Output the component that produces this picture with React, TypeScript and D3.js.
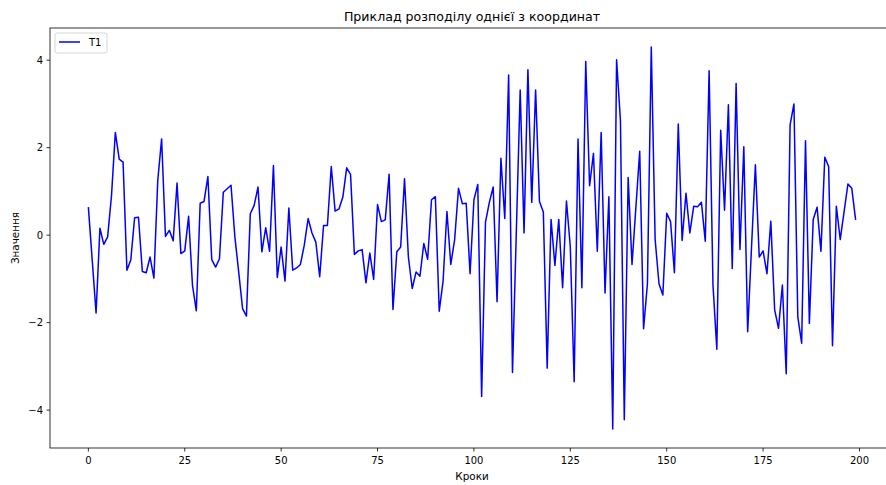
import React from "react";
import * as d3 from "d3";

const seriesName = "T1";
const titleText = "Приклад розподілу однієї з координат";
const xLabelText = "Кроки";
const yLabelText = "Значення";
const xTicks = [0, 25, 50, 75, 100, 125, 150, 175, 200];
const yTicks = [-4, -2, 0, 2, 4];

const values: number[] = [
  0.64, -0.57, -1.78, 0.16, -0.21, -0.04, 0.9, 2.35, 1.74, 1.67,
  -0.8, -0.57, 0.4, 0.41, -0.83, -0.86, -0.5, -0.98, 1.25, 2.2,
  -0.03, 0.11, -0.13, 1.19, -0.42, -0.36, 0.43, -1.14, -1.73, 0.73,
  0.77, 1.34, -0.56, -0.73, -0.54, 0.98, 1.06, 1.14, -0.04, -0.85,
  -1.68, -1.85, 0.49, 0.68, 1.1, -0.38, 0.17, -0.37, 1.59, -0.97,
  -0.27, -1.05, 0.62, -0.8, -0.75, -0.67, -0.23, 0.38, 0.05, -0.16,
  -0.95, 0.22, 0.22, 1.57, 0.55, 0.6, 0.87, 1.54, 1.39, -0.44,
  -0.36, -0.33, -1.09, -0.41, -1.01, 0.7, 0.31, 0.35, 1.39, -1.7,
  -0.38, -0.27, 1.29, -0.5, -1.22, -0.84, -0.94, -0.19, -0.55, 0.81,
  0.88, -1.74, -1.05, 0.54, -0.67, -0.1, 1.07, 0.72, 0.73, -0.88,
  0.81, 1.16, -3.69, 0.3, 0.75, 1.1, -1.52, 1.76, 0.38, 3.66,
  -3.14, 0.09, 3.32, 0.05, 3.78, 0.75, 3.32, 0.77, 0.53, -3.04,
  0.36, -0.69, 0.36, -1.2, 0.78, -0.27, -3.35, 2.2, -1.2, 3.97,
  1.13, 1.87, -0.37, 2.35, -1.32, 0.88, -4.43, 4.01, 2.62, -4.22,
  1.32, -0.67, 0.63, 1.92, -2.14, -1.11, 4.3, -0.1, -1.11, -1.37,
  0.5, 0.31, -0.86, 2.54, -0.12, 0.96, 0.05, 0.66, 0.65, 0.75,
  -0.14, 3.76, -1.14, -2.61, 2.4, 0.57, 2.98, -0.76, 3.47, -0.33,
  2.02, -2.21, -0.27, 1.61, -0.5, -0.36, -0.88, 0.32, -1.71, -2.13,
  -1.14, -3.17, 2.52, 3.0, -1.87, -2.47, 2.16, -2.02, 0.36, 0.64,
  -0.37, 1.78, 1.57, -2.53, 0.66, -0.1, 0.53, 1.17, 1.07, 0.35,
];

const W = 886;
const H = 485;
const left = 50;
const right = 894;
const top = 28;
const bottom = 448;

export default function App() {
  const n = values.length;
  const xMin = 0;
  const xMax = n - 1;
  const xPad = (xMax - xMin) * 0.05;
  const yMinD = d3.min(values) as number;
  const yMaxD = d3.max(values) as number;
  const yPad = (yMaxD - yMinD) * 0.05;

  const x = d3.scaleLinear().domain([xMin - xPad, xMax + xPad]).range([left, right]);
  const y = d3.scaleLinear().domain([yMinD - yPad, yMaxD + yPad]).range([bottom, top]);

  const line = d3
    .line<number>()
    .x((_, i) => x(i))
    .y((d) => y(d));

  const font = "'DejaVu Sans', sans-serif";
  const axisColor = "#000";

  return (
    <div
      style={{
        position: "fixed",
        left: 0,
        top: 0,
        width: W,
        height: H,
        overflow: "hidden",
      }}
    >
      <svg width={W} height={H} style={{ display: "block", background: "#fff" }}>
        <defs>
          <clipPath id="plotclip">
            <rect x={left} y={top} width={right - left} height={bottom - top} />
          </clipPath>
        </defs>
        <path
          d={line(values) || ""}
          fill="none"
          stroke="#0000ff"
          strokeWidth={1.5}
          strokeLinejoin="round"
          strokeLinecap="butt"
          clipPath="url(#plotclip)"
        />
        <rect
          x={left}
          y={top}
          width={right - left}
          height={bottom - top}
          fill="none"
          stroke={axisColor}
          strokeWidth={0.8}
        />
        {xTicks.map((t) => (
          <g key={"xt" + t} transform={`translate(${x(t)},${bottom})`}>
            <line y1={0} y2={3.5} stroke={axisColor} strokeWidth={0.8} />
            <text
              y={16}
              textAnchor="middle"
              fontFamily={font}
              fontSize={10}
              fill="#000"
            >
              {t}
            </text>
          </g>
        ))}
        {yTicks.map((t) => (
          <g key={"yt" + t} transform={`translate(${left},${y(t)})`}>
            <line x1={0} x2={-3.5} stroke={axisColor} strokeWidth={0.8} />
            <text
              x={-7}
              dy="0.35em"
              textAnchor="end"
              fontFamily={font}
              fontSize={10}
              fill="#000"
            >
              {t < 0 ? "\u2212" + Math.abs(t) : String(t)}
            </text>
          </g>
        ))}
        <text
          x={(left + right) / 2}
          y={top - 7}
          textAnchor="middle"
          fontFamily={font}
          fontSize={12.6}
          fill="#000"
        >
          {titleText}
        </text>
        <text
          x={(left + right) / 2}
          y={480}
          textAnchor="middle"
          fontFamily={font}
          fontSize={10.4}
          fill="#000"
        >
          {xLabelText}
        </text>
        <text
          transform={`translate(${19},${(top + bottom) / 2}) rotate(-90)`}
          textAnchor="middle"
          fontFamily={font}
          fontSize={10.4}
          fill="#000"
        >
          {yLabelText}
        </text>
        <g transform={`translate(${left + 5},${top + 5})`}>
          <rect
            x={0}
            y={0}
            width={52}
            height={20}
            rx={2}
            fill="#fff"
            fillOpacity={0.8}
            stroke="#cccccc"
            strokeWidth={0.8}
          />
          <line x1={4} x2={25} y1={9} y2={9} stroke="#0000ff" strokeWidth={1.5} />
          <text x={34} y={13} fontFamily={font} fontSize={10} fill="#000">
            {seriesName}
          </text>
        </g>
      </svg>
    </div>
  );
}
